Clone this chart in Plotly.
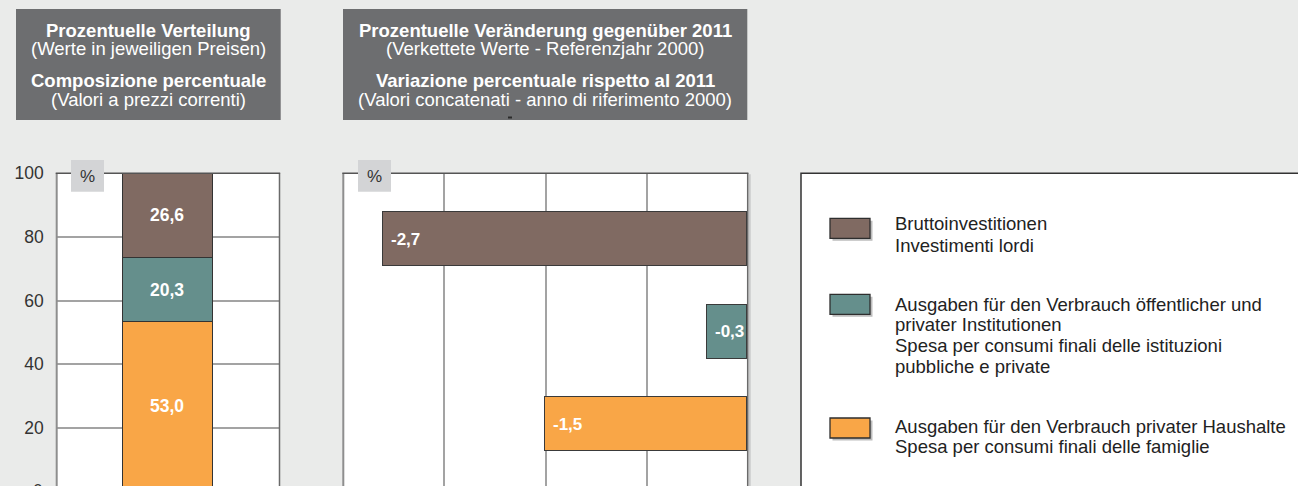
import plotly.graph_objects as go

W, H = 1298, 486
BG = "#EAEBEA"
FONT = "Liberation Sans, Arial, Helvetica, sans-serif"

# ---------------- data ----------------
series_keys = ["Bruttoinvestitionen", "Verbrauch öffentlich/privat Institutionen", "Verbrauch private Haushalte"]
legend_lines = [
    ["Bruttoinvestitionen", "Investimenti lordi"],
    ["Ausgaben für den Verbrauch öffentlicher und", "privater Institutionen",
     "Spesa per consumi finali delle istituzioni", "pubbliche e private"],
    ["Ausgaben für den Verbrauch privater Haushalte", "Spesa per consumi finali delle famiglie"],
]
series_colors = ["#806A62", "#658F8C", "#F9A647"]
share_pct = [26.6, 20.3, 53.0]          # Prozentuelle Verteilung
change_pct = [-2.7, -0.3, -1.5]         # Veränderung gegenüber 2011
y_tick_vals = [20, 40, 60, 80, 100]
y_tick_text = ["20", "40", "60", "80", "100"]

title_left = [("Prozentuelle Verteilung", True), ("(Werte in jeweiligen Preisen)", False),
              ("Composizione percentuale", True), ("(Valori a prezzi correnti)", False)]
title_mid = [("Prozentuelle Veränderung gegenüber 2011", True),
             ("(Verkettete Werte - Referenzjahr 2000)", False),
             ("Variazione percentuale rispetto al 2011", True),
             ("(Valori concatenati - anno di riferimento 2000)", False)]


def fmt(v):
    return f"{v:.1f}".replace(".", ",")


def px(x):
    return x / W


def py(y):
    return 1 - y / H


fig = go.Figure()

# left: stacked composition (bottom -> top)
for i in [2, 1, 0]:
    fig.add_trace(go.Bar(
        x=["2012"], y=[share_pct[i]], name=series_keys[i],
        marker=dict(color=series_colors[i], line=dict(color="#333333", width=1)),
        width=0.404, text=[fmt(share_pct[i])], textposition="inside",
        insidetextanchor="middle",
        textfont=dict(color="white", size=17.5, family=FONT, weight="bold"),
        xaxis="x", yaxis="y", showlegend=False, hoverinfo="skip",
    ))

# middle: horizontal change bars
fig.add_trace(go.Bar(
    y=series_keys, x=change_pct, orientation="h",
    marker=dict(color=series_colors, line=dict(color="#3A3A3A", width=1.2)),
    width=0.583, xaxis="x2", yaxis="y2", showlegend=False, hoverinfo="skip",
))

plot_top = 173.3
ydom = [0, py(plot_top)]

annotations = []
shapes = []

# value labels in horizontal bars
for k, v in zip(series_keys, change_pct):
    annotations.append(dict(x=v, y=k, xref="x2", yref="y2", text=fmt(v), showarrow=False,
                            xanchor="left", yanchor="middle", xshift=5.5,
                            font=dict(color="white", size=17, family=FONT, weight="bold")))

# partially visible "0" tick label
annotations.append(dict(x=px(44.5), y=py(490.5), xref="paper", yref="paper", text="0",
                        showarrow=False, xanchor="right", yanchor="middle",
                        font=dict(color="#333333", size=17.5, family=FONT)))

# title boxes
boxes = [((16, 280.7), title_left), ((343, 747.3), title_mid)]
line_y = [30, 48.5, 80, 99.5]
for (x0, x1), lines in boxes:
    shapes.append(dict(type="rect", xref="paper", yref="paper", x0=px(x0), x1=px(x1),
                       y0=py(120), y1=py(9), fillcolor="#6D6E70", line=dict(width=0), layer="above"))
    for (txt, bold), yy in zip(lines, line_y):
        annotations.append(dict(x=px((x0 + x1) / 2), y=py(yy), xref="paper", yref="paper",
                                text=txt, showarrow=False, xanchor="center", yanchor="middle",
                                font=dict(color="white", size=18.5, family=FONT,
                                          weight="bold" if bold else "normal")))
# tiny mark under box 2 text
shapes.append(dict(type="rect", xref="paper", yref="paper", x0=px(508), x1=px(512),
                   y0=py(118.5), y1=py(116.5), fillcolor="#2A2A2A", line=dict(width=0), layer="above"))

# plot frames
for (xl, xr) in [(56.7, 279.5), (343.3, 747.7)]:
    shapes.append(dict(type="line", xref="paper", yref="paper", x0=px(xl), x1=px(xl),
                       y0=0, y1=py(plot_top), line=dict(color="#8E8E8E", width=2), layer="above"))
    shapes.append(dict(type="line", xref="paper", yref="paper", x0=px(xr), x1=px(xr),
                       y0=0, y1=py(plot_top), line=dict(color="#6A6A6A", width=1.5), layer="above"))
    shapes.append(dict(type="line", xref="paper", yref="paper", x0=px(xl - 1), x1=px(xr + 0.7),
                       y0=py(plot_top), y1=py(plot_top), line=dict(color="#555555", width=1.5),
                       layer="above"))
# shadow right of middle plot
shapes.append(dict(type="line", xref="paper", yref="paper", x0=px(749.7), x1=px(749.7),
                   y0=0, y1=py(plot_top + 1), line=dict(color="#C9CACA", width=2), layer="below"))

# "%" boxes
for (x0, x1) in [(71, 104), (358, 391)]:
    shapes.append(dict(type="rect", xref="paper", yref="paper", x0=px(x0), x1=px(x1),
                       y0=py(191.7), y1=py(160), fillcolor="#D3D4D6", line=dict(width=0),
                       layer="above"))
    annotations.append(dict(x=px((x0 + x1) / 2), y=py(176.5), xref="paper", yref="paper",
                            text="%", showarrow=False, xanchor="center", yanchor="middle",
                            font=dict(color="#333333", size=17, family=FONT)))

# legend panel
shapes.append(dict(type="rect", xref="paper", yref="paper", x0=px(801), x1=px(W + 20),
                   y0=py(H + 20), y1=py(173.3), fillcolor="white",
                   line=dict(color="#333333", width=1.5), layer="below"))
swatch_top = [218.3, 294.3, 418.0]
text_first = [223.8, 304.0, 426.2]
line_gap = [21.7, 20.7, 20.7]
for i in range(3):
    t = swatch_top[i]
    shapes.append(dict(type="rect", xref="paper", yref="paper", x0=px(832.5), x1=px(872.5),
                       y0=py(t + 22.5), y1=py(t + 2.5), fillcolor="#BDBDBD", line=dict(width=0),
                       layer="above"))
    shapes.append(dict(type="rect", xref="paper", yref="paper", x0=px(830), x1=px(870),
                       y0=py(t + 20), y1=py(t), fillcolor=series_colors[i],
                       line=dict(color="#2E2E2E", width=1.3), layer="above"))
    for j, ln in enumerate(legend_lines[i]):
        annotations.append(dict(x=px(892.5), y=py(text_first[i] + j * line_gap[i]),
                                xref="paper", yref="paper", text=ln, showarrow=False,
                                xanchor="left", yanchor="middle",
                                font=dict(color="#222222", size=18.5, family=FONT)))

fig.update_layout(
    template="none",
    width=W, height=H, margin=dict(l=0, r=0, t=0, b=0, autoexpand=False),
    paper_bgcolor=BG, plot_bgcolor="white", barmode="stack", bargap=0,
    font=dict(family=FONT, color="#333333"),
    xaxis=dict(domain=[px(56.7), px(279.5)], type="category", range=[-0.5, 0.5],
               showticklabels=False, showgrid=False, zeroline=False, showline=False,
               automargin=False, fixedrange=True),
    yaxis=dict(domain=ydom, range=[1.67, 100], tickvals=y_tick_vals, ticktext=y_tick_text,
               showgrid=True, gridcolor="#A3A3A3", gridwidth=1.5, zeroline=False, showline=False,
               ticks="", ticklabelstandoff=12, automargin=False,
               tickfont=dict(size=17.5, color="#333333", family=FONT)),
    xaxis2=dict(domain=[px(343.3), px(747.7)], anchor="y2", range=[-3, 0], tick0=0, dtick=0.75,
                showticklabels=False, showgrid=True, gridcolor="#A3A3A3", gridwidth=1.5,
                zeroline=False, showline=False, ticks="", automargin=False),
    yaxis2=dict(domain=ydom, anchor="x2", type="category", categoryorder="array",
                categoryarray=series_keys, range=[2.665, -0.712], showticklabels=False,
                showgrid=False, zeroline=False, showline=False, ticks="", automargin=False),
    shapes=shapes, annotations=annotations,
)

fig.write_html("out.html")
